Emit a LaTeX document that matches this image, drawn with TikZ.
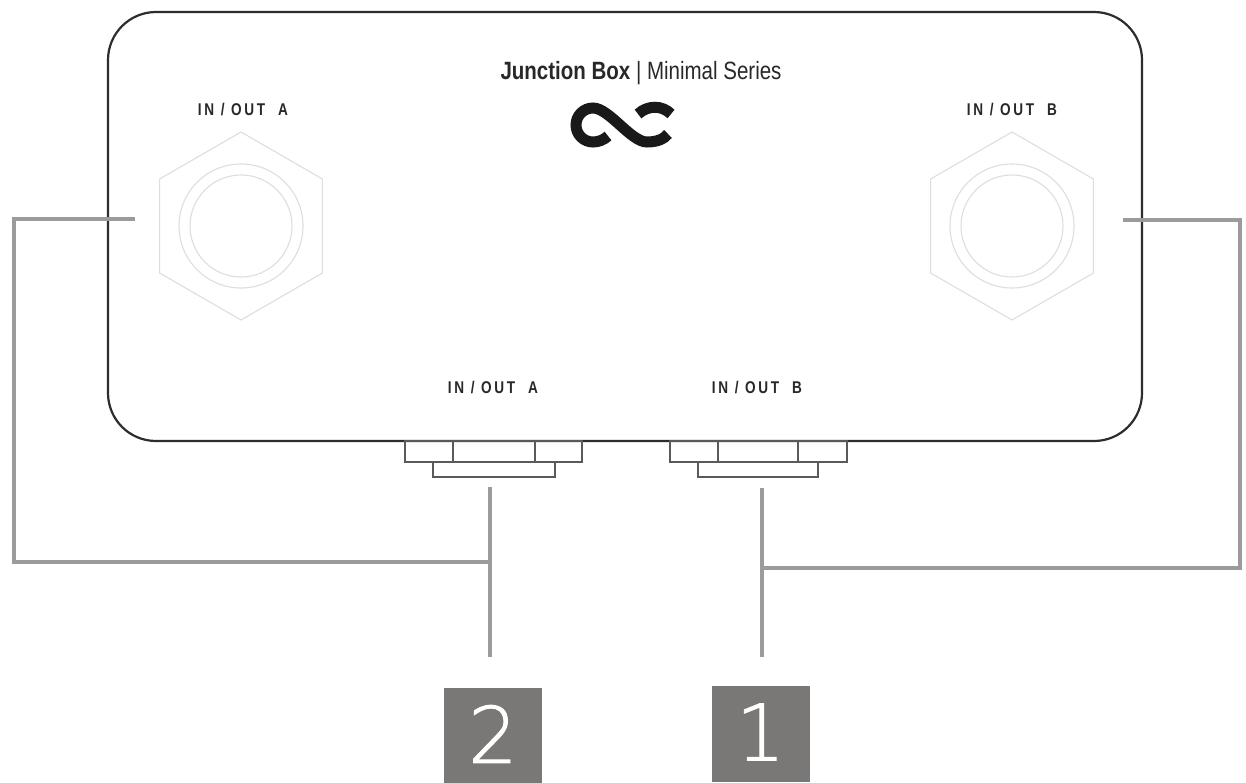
\documentclass[tikz,border=0pt]{standalone}
\usepackage{fontspec}
\setmainfont{Liberation Sans}
\newfontfamily\digitfont{DejaVu Sans ExtraLight}[FakeBold=1.2]
\newfontfamily\lblfont{Liberation Sans Bold}[LetterSpace=20]
\usepackage{graphicx}
\definecolor{boxline}{RGB}{45,45,45}
\definecolor{wiregray}{RGB}{155,155,155}
\definecolor{jackgray}{RGB}{222,222,222}
\definecolor{portline}{RGB}{90,90,90}
\definecolor{tagfill}{RGB}{122,120,118}
\definecolor{txtgray}{RGB}{40,40,40}
\newcommand\condtxt[2]{\scalebox{#1}[1]{#2}}
\tikzset{
  housing/.style={draw=boxline, line width=2.2pt, rounded corners=48pt, minimum width=1034pt, minimum height=429pt, inner sep=0pt},
  jackline/.style={draw=jackgray, line width=1.1pt},
  wire/.style={draw=wiregray, line width=4pt, line join=miter},
  portbox/.style={draw=portline, line width=1.4pt},
  lbl/.style={font=\lblfont\fontsize{17}{17}\selectfont, text=txtgray, inner sep=0pt},
  tag/.style={fill=tagfill, draw=none, minimum width=98pt, minimum height=96pt, inner sep=0pt},
  tagnum/.style={font=\digitfont\fontsize{78}{78}\selectfont, text=white, inner sep=0pt},
  logo/.style={draw=black!90, line width=11pt, line cap=butt}
}
\begin{document}
\begin{tikzpicture}[x=1pt,y=-1pt]
\useasboundingbox (0,0) rectangle (1246,782);
\fill[white] (0,0) rectangle (1246,782);
% housing
\node[housing] (box) at (625,226.5) {};
% title and logo
\node[font=\fontsize{25}{25}\selectfont, text=txtgray, inner sep=0pt] (title) at (641,73)
  {\condtxt{0.82}{\textbf{Junction Box} | Minimal Series}};
\draw[logo] (608,136) .. controls (604,140) and (598,142) .. (593,142)
  .. controls (583.6,142) and (576,134.4) .. (576,125)
  .. controls (576,115.6) and (583.6,108) .. (593,108)
  .. controls (609,108) and (631,142) .. (647,142)
  .. controls (657,142) and (664,139) .. (668,134);
\draw[logo] (638,114) .. controls (648,105) and (662,105) .. (671,114);
% jacks
\foreach \nm/\cx in {A/241,B/1012}{
  \draw[jackline, shift={(\cx,226)}] (0,-94) -- (81.4,-47) -- (81.4,47) -- (0,94) -- (-81.4,47) -- (-81.4,-47) -- cycle;
  \draw[jackline] (\cx,226) circle[radius=62];
  \node[circle, jackline, minimum size=102pt, inner sep=0pt] (jack\nm) at (\cx,226) {};
}
\node[lbl] (lblA) at (243,110) {\condtxt{0.8}{IN / OUT\ \ A}};
\node[lbl] (lblB) at (1012,110) {\condtxt{0.8}{IN / OUT\ \ B}};
\node[lbl] (lblbA) at (493,388) {\condtxt{0.8}{IN / OUT\ \ A}};
\node[lbl] (lblbB) at (757,388) {\condtxt{0.8}{IN / OUT\ \ B}};
% bottom ports
\draw[portbox] (405,441) rectangle (582,462);
\draw[portbox] (453,441) -- (453,462) (535,441) -- (535,462);
\draw[portbox] (433,462) rectangle (555,477);
\draw[portbox] (670,441) rectangle (847,462);
\draw[portbox] (718,441) -- (718,462) (798,441) -- (798,462);
\draw[portbox] (698,462) rectangle (818,477);
\coordinate (portA) at (490,487);
\coordinate (portB) at (762,488);
% tags
\node[tag, anchor=north] (tag2) at (493,688) {};
\node[tag, anchor=north] (tag1) at (760.5,686) {};
\node[tagnum] (num2) at (493,734) {2};
\node[tagnum] (num1) at (760.5,732) {1};
% wires
\coordinate (wA) at (135,219);
\coordinate (wB) at (1123,220);
\coordinate (endA) at (490,657);
\coordinate (endB) at (762,657);
\draw[wire] (wA) -- (14,219) -- (14,562) -- (490,562);
\draw[wire] (portA) -- (endA);
\draw[wire] (wB) -- (1240,220) -- (1240,568) -- (762,568);
\draw[wire] (portB) -- (endB);
\end{tikzpicture}
\end{document}
